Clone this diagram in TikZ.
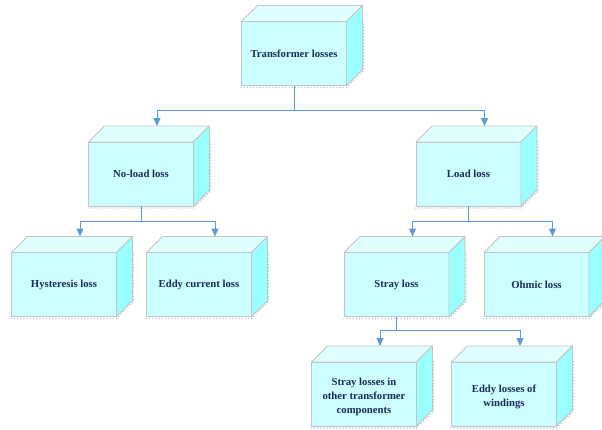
\documentclass[tikz,border=0pt]{standalone}
\usepackage{fontspec}
\setmainfont{Liberation Serif}
\usetikzlibrary{arrows.meta}
\definecolor{frontc}{HTML}{CCFFFF}
\definecolor{topc}{HTML}{E0FFFF}
\definecolor{sidec}{HTML}{99FFFF}
\definecolor{edgec}{HTML}{C4C4C4}
\definecolor{txtc}{HTML}{1A2A58}
\definecolor{arrc}{HTML}{5B9BD5}
\definecolor{shadc}{HTML}{B8C4D8}
\tikzset{
  front/.style={draw=edgec, line width=0.8pt, fill=frontc, minimum width=105pt, minimum height=64pt,
    inner sep=0pt, outer sep=0pt, align=center, text=txtc, font=\fontsize{10.7}{14}\selectfont\bfseries},
  topface/.style={draw=edgec, line width=0.8pt, fill=topc, line join=round},
  sideface/.style={draw=edgec, line width=0.8pt, fill=sidec, line join=round},
  shade/.style={draw=shadc, line width=1.2pt, dotted},
  conn/.style={draw=arrc, line width=1pt},
  arr/.style={conn, -{Triangle[length=8pt,width=7pt]}},
}
\newcommand{\cubefaces}[1]{%
  \draw[shade] ([xshift=-1pt,yshift=-2pt]#1.south west) -- ([yshift=-2pt]#1.south east) -- ++(17,-17) -- ++(0,-50);
  \draw[topface] (#1.north west) -- ++(16,-16) -- ([shift={(16,-16)}]#1.north east) -- (#1.north east) -- cycle;
  \draw[sideface] (#1.north east) -- ++(16,-16) -- ([shift={(16,-16)}]#1.south east) -- (#1.south east) -- cycle;
}
\begin{document}
\begin{tikzpicture}[x=1pt,y=-1pt]
\useasboundingbox (0,0) rectangle (602,429);
\node[front] (T) at (294,53.5) {Transformer losses};
\node[front] (N) at (141,174) {No-load loss};
\node[front] (L) at (468.5,174) {Load loss};
\node[front] (H) at (64,284.5) {Hysteresis loss};
\node[front] (E) at (199,284.5) {Eddy current loss};
\node[front] (S) at (396.5,284.5) {Stray loss};
\node[front] (O) at (536.5,284.5) {Ohmic loss};
\node[front] (SO) at (364,394) {\rule{0pt}{14pt}Stray losses in\\other transformer\\components};
\node[front] (EW) at (504,394) {\rule{0pt}{14pt}Eddy losses of\\windings};
\foreach \n in {T,N,L,H,E,S,O,SO,EW}{\cubefaces{\n}}
% connectors
\coordinate (tj) at ([yshift=-25pt]T.south);
\draw[conn] (T.south) -- (tj);
\draw[arr] (tj) -| ([shift={(16,-16)}]N.north);
\draw[arr] (tj) -| ([shift={(16,-16)}]L.north);
\coordinate (nj) at ([yshift=-15pt]N.south);
\draw[conn] (N.south) -- (nj);
\draw[arr] (nj) -| ([shift={(16,-16)}]H.north);
\draw[arr] (nj) -| ([shift={(16,-16)}]E.north);
\coordinate (lj) at ([yshift=-15pt]L.south);
\draw[conn] (L.south) -- (lj);
\draw[arr] (lj) -| ([shift={(16,-16)}]S.north);
\draw[arr] (lj) -| ([shift={(16,-16)}]O.north);
\coordinate (sj) at ([yshift=-14pt]S.south);
\draw[conn] (S.south) -- (sj);
\draw[arr] (sj) -| ([shift={(16,-16)}]SO.north);
\draw[arr] (sj) -| ([shift={(16,-16)}]EW.north);
\end{tikzpicture}
\end{document}
